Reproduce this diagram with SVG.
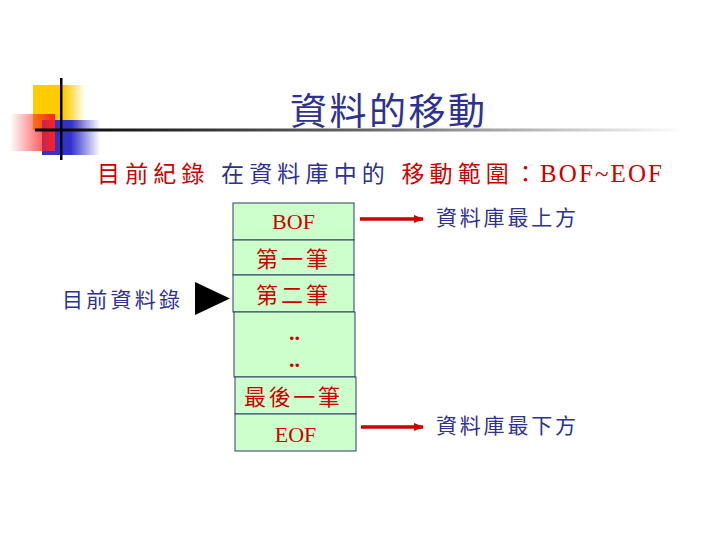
<svg xmlns="http://www.w3.org/2000/svg" width="720" height="540" viewBox="0 0 720 540">
<style>
.cj{font-family:"Liberation Sans","Noto Sans CJK TC",sans-serif}
.tm{font-family:"Liberation Serif","Noto Sans CJK TC",serif}
.box{fill:#ccffcc;stroke:#2e3b6b;stroke-width:1}
.red{fill:#cc0000}
.navy{fill:#2e3192}
.arr{stroke:#cc0000;stroke-width:3.5;marker-end:url(#ah)}
</style>
<defs>
<marker id="ah" markerWidth="10" markerHeight="8" refX="9" refY="4" orient="auto" markerUnits="userSpaceOnUse"><path d="M0,0L10,4L0,8z" fill="#cc0000"/></marker>
<linearGradient id="hl" x1="0" x2="1"><stop offset="0" stop-color="#000"/><stop offset="0.5" stop-color="#666"/><stop offset="1" stop-color="#fff"/></linearGradient>
<linearGradient id="rg" x1="1" x2="0"><stop offset="0" stop-color="#ff2020"/><stop offset="1" stop-color="#ff2020" stop-opacity="0"/></linearGradient>
<linearGradient id="bg" x1="0" x2="1"><stop offset="0.5" stop-color="#3333cc"/><stop offset="1" stop-color="#3333cc" stop-opacity="0"/></linearGradient>
<linearGradient id="yg" x1="0" x2="1"><stop offset="0.6" stop-color="#ffcc00"/><stop offset="1" stop-color="#ffcc00" stop-opacity="0"/></linearGradient>
</defs>
<g id="decor">
<rect x="33" y="85" width="52" height="45" fill="url(#yg)"/>
<rect x="42" y="120" width="58" height="35" fill="url(#bg)"/>
<rect x="10" y="114" width="45" height="37" fill="url(#rg)"/>
<rect x="35" y="128.5" width="650" height="3" fill="url(#hl)"/>
<rect x="60" y="78" width="2.5" height="82" fill="#000"/>
</g>
<text x="290" y="125" font-size="37" textLength="195" class="cj navy">資料的移動</text>
<text x="97" y="182" font-size="23" textLength="440" class="cj"><tspan class="red">目前紀錄</tspan><tspan class="navy"> 在資料庫中的 </tspan><tspan class="red"> 移動範圍：</tspan></text>
<text x="540" y="182" font-size="25" textLength="122" class="tm red">BOF~EOF</text>
<g id="connectors">
<line x1="360" y1="219" x2="423" y2="219" class="arr"/>
<line x1="361" y1="427" x2="423" y2="427" class="arr"/>
<path d="M195,282L230,298.5L195,315z" fill="#000"/>
</g>
<g id="bof"><rect x="233" y="203" width="121" height="37" class="box"/><text x="293.5" y="229" text-anchor="middle" font-size="22" class="tm red">BOF</text></g>
<g id="r1"><rect x="233" y="240" width="121" height="35" class="box"/><text x="256" y="267" font-size="22" textLength="72" class="cj red">第一筆</text></g>
<g id="r2"><rect x="233" y="275" width="121" height="37" class="box"/><text x="256" y="303" font-size="22" textLength="72" class="cj red">第二筆</text></g>
<g id="dots"><rect x="234" y="312" width="121" height="65" class="box"/><text x="294.5" y="340" text-anchor="middle" font-size="22" class="tm red" font-weight="bold">..</text><text x="294.5" y="367" text-anchor="middle" font-size="22" class="tm red" font-weight="bold">..</text></g>
<g id="last"><rect x="235" y="377" width="121" height="37" class="box"/><text x="244" y="405" font-size="22" textLength="96" class="cj red">最後一筆</text></g>
<g id="eof"><rect x="235" y="414" width="121" height="37" class="box"/><text x="295.5" y="442" text-anchor="middle" font-size="22" class="tm red">EOF</text></g>
<text x="436" y="225" font-size="21" textLength="140" class="cj navy">資料庫最上方</text>
<text x="436" y="433" font-size="21" textLength="140" class="cj navy">資料庫最下方</text>
<text x="62" y="307" font-size="21" textLength="118" class="cj navy">目前資料錄</text>
</svg>
